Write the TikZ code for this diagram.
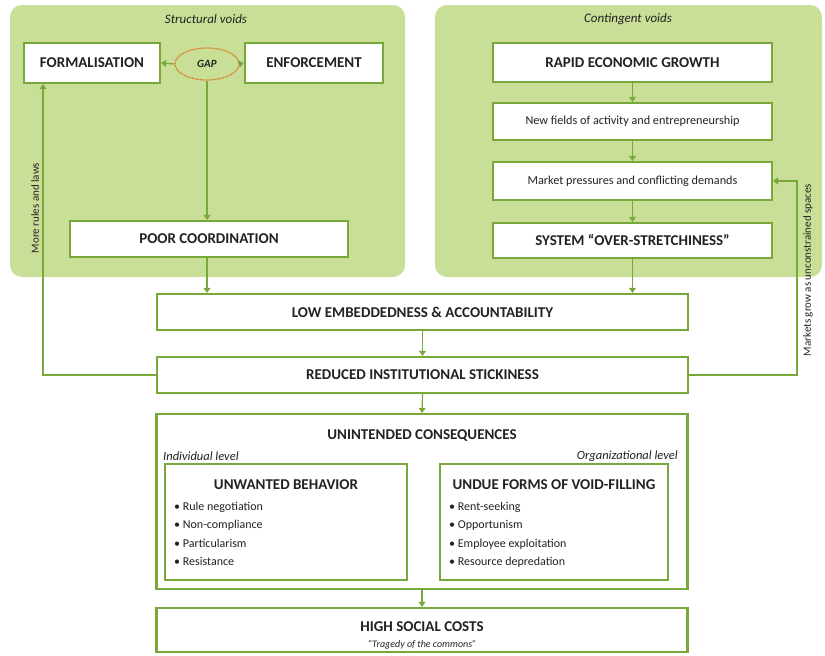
\documentclass[tikz,border=0pt]{standalone}
\usepackage{fontspec}
\setmainfont{Carlito}
\usetikzlibrary{arrows.meta,shapes.geometric,calc}
\definecolor{panelgreen}{HTML}{C9DF98}
\definecolor{linegreen}{HTML}{78A73A}
\definecolor{gaporange}{HTML}{D9832F}
\definecolor{txt}{HTML}{222222}
\tikzset{
  panel/.style={fill=panelgreen,draw=none,rounded corners=12pt},
  box/.style={draw=linegreen,line width=2.2pt,fill=white,inner sep=0pt,
    text=txt,font=\bfseries\fontsize{15}{17}\selectfont},
  smallbox/.style={box,font=\fontsize{12.2}{14}\selectfont},
  arr/.style={draw=linegreen,line width=1.2pt,-{Triangle[length=5pt,width=7pt]}},
  caption/.style={text=txt,font=\itshape\fontsize{13}{15}\selectfont,inner sep=0pt},
  level/.style={caption,font=\itshape\fontsize{12.5}{14}\selectfont},
  side/.style={text=txt,font=\fontsize{11}{13}\selectfont,inner sep=0pt,rotate=90},
  head/.style={text=txt,font=\bfseries\fontsize{15}{17}\selectfont,inner sep=0pt},
  items/.style={text=txt,font=\fontsize{12}{18.3}\selectfont,inner sep=0pt,align=left},
  subbox/.style={draw=linegreen,line width=1.6pt,inner sep=0pt},
}
\begin{document}
\begin{tikzpicture}[x=1pt,y=-1pt]
\useasboundingbox (0,0) rectangle (825,656);

% the two void panels
\path[panel] (10,5) rectangle (405,277);
\path[panel] (435,5) rectangle (822,277);
\node[caption] (sv) at (206,19) {Structural voids};
\node[caption] (cv) at (628,19) {Contingent voids};

% structural voids
\node[box,minimum width=136pt,minimum height=40pt] (form) at (92,63) {FORMALISATION};
\node[box,minimum width=138pt,minimum height=40pt] (enf) at (314,63) {ENFORCEMENT};
\node[ellipse,draw=gaporange,line width=1.2pt,dash pattern=on 2pt off 0.8pt,
      minimum width=64pt,minimum height=32pt,inner sep=0pt,text=txt,
      font=\itshape\bfseries\fontsize{11}{13}\selectfont] (gap) at (207,64) {GAP};
\node[box,minimum width=278pt,minimum height=36pt] (poor) at (209,239) {POOR COORDINATION};

% contingent voids
\node[box,minimum width=279pt,minimum height=39pt] (rapid) at (632.5,62.5) {RAPID ECONOMIC GROWTH};
\node[smallbox,minimum width=279pt,minimum height=37pt] (newf) at (632.5,121.5) {New fields of activity and entrepreneurship};
\node[smallbox,minimum width=279pt,minimum height=38pt] (mkt) at (632.5,181) {Market pressures and conflicting demands};
\node[box,minimum width=279pt,minimum height=35pt] (sys) at (632.5,240.5) {SYSTEM “OVER-STRETCHINESS”};

% central chain
\node[box,minimum width=531pt,minimum height=36pt] (low) at (422.5,312) {LOW EMBEDDEDNESS \& ACCOUNTABILITY};
\node[box,minimum width=531pt,minimum height=36pt] (red) at (422.5,375) {REDUCED INSTITUTIONAL STICKINESS};

% unintended consequences
\node[box,minimum width=531pt,minimum height=175pt] (uni) at (422,501.5) {};
\node[head] (unit) at (422,436) {UNINTENDED CONSEQUENCES};
\node[level,anchor=west] (indl) at (163,456) {Individual level};
\node[level,anchor=east] (orgl) at (678,456) {Organizational level};
\node[subbox,minimum width=242pt,minimum height=116pt] (ub) at (286,522) {};
\node[subbox,minimum width=228pt,minimum height=116pt] (ud) at (554,522) {};
\node[head] (ubt) at (286,485) {UNWANTED BEHAVIOR};
\node[head] (udt) at (554,485) {UNDUE FORMS OF VOID-FILLING};
\node[items,anchor=north west] (ubl) at (174,502) {• Rule negotiation\\ • Non-compliance\\ • Particularism\\ • Resistance};
\node[items,anchor=north west] (udl) at (449,502) {• Rent-seeking\\ • Opportunism\\ • Employee exploitation\\ • Resource depredation};

\node[box,minimum width=531pt,minimum height=44pt] (high) at (422,630) {};
\node[head] (hight) at (422,627) {HIGH SOCIAL COSTS};
\node[caption,font=\itshape\fontsize{10}{12}\selectfont] (trag) at (422,645) {“Tragedy of the commons”};

% connectors
\draw[arr] (gap.west) -- (form.east);
\draw[arr] (gap.east) -- (enf.west);
\draw[arr] (gap.south) -- (gap.south |- poor.north);
\draw[arr] (poor.south -| gap.south) -- (gap.south |- low.north);
\draw[arr] (rapid.south) -- (newf.north);
\draw[arr] (newf.south) -- (mkt.north);
\draw[arr] (mkt.south) -- (sys.north);
\draw[arr] (sys.south) -- (sys.south |- low.north);
\draw[arr] (low.south) -- (red.north);
\draw[arr] (red.south) -- (uni.north);
\draw[arr] (uni.south) -- (high.north);

% feedback loops
\coordinate (fbl) at (43,0);
\coordinate (fbr) at (797,0);
\draw[arr] (red.west) -| (fbl |- form.south);
\draw[arr] (red.east) -| (fbr |- mkt.east) -- (mkt.east);
\node[side] (fbltxt) at (35,208) {More rules and laws};
\node[side] (fbrtxt) at (808,270) {Markets grow as unconstrained spaces};
\end{tikzpicture}
\end{document}
